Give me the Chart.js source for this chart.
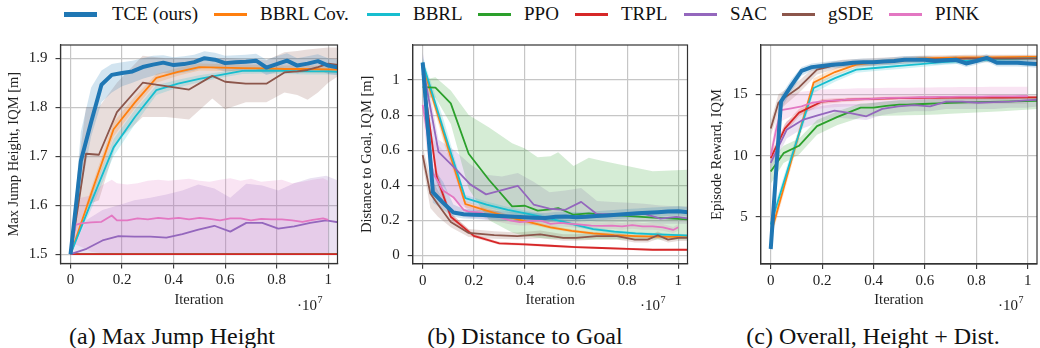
<!DOCTYPE html>
<html>
<head>
<meta charset="utf-8">
<script src="https://cdn.jsdelivr.net/npm/chart.js@4.4.1/dist/chart.umd.min.js"></script>
<style>
  html, body { margin: 0; padding: 0; background: #fff; }
  body { width: 1040px; height: 348px; position: relative; overflow: hidden;
         font-family: 'Liberation Serif', 'Times New Roman', serif; color: #111; }
  .item { position: absolute; top: 2px; height: 24px; display: flex; align-items: center;
          font-size: 19px; white-space: nowrap; }
  .sw { width: 33px; height: 3px; margin-right: 13px; }
  canvas { position: absolute; }
  .cap { position: absolute; top: 322px; width: 400px; text-align: center;
         font-size: 24px; line-height: 28px; white-space: nowrap; }
</style>
</head>
<body>
<canvas id="ca"></canvas>
<canvas id="cb"></canvas>
<canvas id="cc"></canvas>
<div class="cap" style="left:-28px">(a) Max Jump Height</div>
<div class="cap" style="left:325px">(b) Distance to Goal</div>
<div class="cap" style="left:673px">(c) Overall, Height + Dist.</div>
<script>
const NAMES  = ['TCE (ours)', 'BBRL Cov.', 'BBRL', 'PPO', 'TRPL', 'SAC', 'gSDE', 'PINK'];
const COLORS = ['#1f77b4', '#ff7f0e', '#17becf', '#2ca02c', '#d62728', '#9467bd', '#8c564b', '#e377c2'];

const X_TICKS = [0, 0.2, 0.4, 0.6, 0.8, 1];
const A_TICKS = [1.5, 1.6, 1.7, 1.8, 1.9];
const B_TICKS = [0, 0.2, 0.4, 0.6, 0.8, 1];
const C_TICKS = [5, 10, 15];

// evaluation points (x 1e7 iterations) per algorithm
const X_TCE  = [0,0.04,0.08,0.12,0.16,0.2,0.24,0.28,0.32,0.36,0.4,0.44,0.48,0.52,0.56,0.6,0.64,0.68,0.72,0.76,0.8,0.84,0.88,0.92,0.96,1.0,1.04];
const X_BBRL = [0,0.083,0.167,0.25,0.333,0.417,0.5,0.583,0.667,0.75,0.833,0.917,1.0,1.04];
const X_PPO  = [0,0.05,0.11,0.18,0.26,0.35,0.4,0.45,0.5,0.53,0.59,0.65,0.7,0.8,0.9,1.04];
const X_TRPL = [0,0.055,0.11,0.2,0.3,0.4,0.5,0.6,0.7,0.8,0.9,1.0,1.04];
const X_SAC  = [0,0.062,0.124,0.186,0.248,0.31,0.372,0.434,0.496,0.558,0.62,0.682,0.744,0.806,0.868,0.93,0.992,1.04];
const X_GSDE = [0,0.03,0.06,0.11,0.18,0.28,0.37,0.46,0.55,0.6,0.68,0.76,0.83,0.88,0.92,0.96,1.0,1.04];
const X_PINK = [0,0.02,0.04,0.08,0.12,0.16,0.18,0.22,0.26,0.3,0.34,0.38,0.42,0.46,0.5,0.54,0.58,0.62,0.66,0.7,0.74,0.78,0.82,0.86,0.9,0.94,0.98,1.0];

// (a) max jump height
const A_TCE    = [1.5,1.69,1.77,1.846,1.866,1.87,1.873,1.882,1.887,1.891,1.886,1.888,1.892,1.9,1.897,1.89,1.892,1.893,1.895,1.881,1.888,1.895,1.885,1.889,1.894,1.885,1.881];
const A_TCE_LO = [1.5,1.63,1.74,1.81,1.83,1.843,1.85,1.858,1.864,1.87,1.868,1.871,1.875,1.882,1.879,1.873,1.875,1.876,1.878,1.866,1.872,1.878,1.869,1.873,1.877,1.868,1.865];
const A_TCE_HI = [1.5,1.75,1.84,1.875,1.888,1.892,1.895,1.9,1.905,1.906,1.902,1.904,1.907,1.914,1.911,1.905,1.906,1.907,1.909,1.897,1.904,1.91,1.9,1.904,1.908,1.9,1.897];
const A_BBRLC    = [1.5,1.628,1.755,1.81,1.86,1.872,1.882,1.881,1.88,1.879,1.878,1.878,1.877,1.877];
const A_BBRLC_LO = [1.5,1.615,1.74,1.798,1.85,1.864,1.875,1.874,1.873,1.872,1.871,1.871,1.87,1.87];
const A_BBRLC_HI = [1.5,1.64,1.77,1.822,1.868,1.88,1.889,1.888,1.887,1.886,1.885,1.885,1.884,1.884];
const A_BBRL    = [1.5,1.61,1.718,1.78,1.835,1.848,1.858,1.866,1.874,1.875,1.874,1.873,1.873,1.872];
const A_BBRL_LO = [1.5,1.595,1.7,1.765,1.825,1.84,1.851,1.86,1.868,1.869,1.868,1.867,1.867,1.866];
const A_BBRL_HI = [1.5,1.625,1.735,1.795,1.845,1.856,1.865,1.872,1.88,1.881,1.88,1.879,1.879,1.878];
const A_PPO  = [1.5,1.5,1.5,1.5,1.5,1.5,1.5,1.5,1.5,1.5,1.5,1.5,1.5,1.5,1.5,1.5];
const A_TRPL = [1.5,1.5,1.5,1.5,1.5,1.5,1.5,1.5,1.5,1.5,1.5,1.5,1.5];
const A_SAC    = [1.5,1.511,1.528,1.537,1.536,1.536,1.534,1.541,1.55,1.558,1.546,1.564,1.564,1.552,1.557,1.564,1.569,1.565];
const A_SAC_LO = [1.5,1.5,1.5,1.501,1.501,1.501,1.501,1.501,1.501,1.501,1.501,1.501,1.501,1.501,1.501,1.501,1.501,1.501];
const A_SAC_HI = [1.5,1.57,1.59,1.6,1.61,1.615,1.622,1.63,1.642,1.634,1.615,1.644,1.64,1.63,1.645,1.655,1.66,1.65];
const A_GSDE    = [1.5,1.6,1.705,1.703,1.79,1.85,1.843,1.836,1.864,1.852,1.848,1.848,1.871,1.873,1.876,1.882,1.889,1.886];
const A_GSDE_LO = [1.5,1.55,1.6,1.61,1.73,1.78,1.78,1.775,1.818,1.796,1.81,1.81,1.83,1.825,1.815,1.83,1.85,1.864];
const A_GSDE_HI = [1.5,1.68,1.8,1.8,1.85,1.905,1.9,1.9,1.9,1.9,1.898,1.896,1.912,1.915,1.918,1.92,1.922,1.922];
const A_PINK    = [1.5,1.56,1.563,1.565,1.566,1.579,1.569,1.569,1.573,1.571,1.574,1.572,1.574,1.571,1.574,1.572,1.569,1.573,1.573,1.569,1.572,1.571,1.571,1.569,1.566,1.57,1.573,1.57];
const A_PINK_LO = [1.5,1.52,1.515,1.505,1.502,1.502,1.502,1.502,1.502,1.502,1.502,1.502,1.502,1.502,1.502,1.502,1.502,1.502,1.502,1.502,1.502,1.502,1.502,1.502,1.502,1.502,1.502,1.502];
const A_PINK_HI = [1.5,1.6,1.615,1.62,1.64,1.652,1.645,1.642,1.645,1.65,1.652,1.65,1.652,1.654,1.65,1.648,1.652,1.655,1.65,1.654,1.648,1.65,1.652,1.645,1.648,1.652,1.655,1.65];

// (b) distance to goal
const B_TCE    = [1.1,0.36,0.3,0.245,0.235,0.232,0.23,0.226,0.223,0.22,0.218,0.215,0.213,0.22,0.222,0.218,0.22,0.224,0.228,0.232,0.236,0.24,0.243,0.246,0.25,0.252,0.246];
const B_TCE_LO = [1.04,0.3,0.26,0.22,0.21,0.207,0.205,0.201,0.198,0.195,0.193,0.19,0.188,0.195,0.197,0.193,0.195,0.199,0.203,0.207,0.211,0.215,0.218,0.221,0.225,0.227,0.221];
const B_TCE_HI = [1.16,0.5,0.42,0.29,0.265,0.26,0.258,0.254,0.25,0.248,0.246,0.243,0.241,0.248,0.25,0.246,0.248,0.252,0.256,0.26,0.264,0.268,0.271,0.274,0.278,0.28,0.274];
const B_BBRLC    = [1.085,0.69,0.293,0.255,0.22,0.19,0.16,0.14,0.125,0.115,0.11,0.107,0.105,0.104];
const B_BBRLC_LO = [1.06,0.64,0.275,0.24,0.207,0.178,0.15,0.131,0.117,0.107,0.102,0.1,0.098,0.097];
const B_BBRLC_HI = [1.11,0.74,0.31,0.27,0.233,0.202,0.17,0.149,0.133,0.123,0.118,0.115,0.112,0.111];
const B_BBRL    = [1.1,0.71,0.326,0.29,0.26,0.235,0.21,0.18,0.15,0.135,0.125,0.12,0.116,0.113];
const B_BBRL_LO = [1.07,0.66,0.305,0.272,0.244,0.22,0.197,0.169,0.14,0.126,0.117,0.112,0.108,0.105];
const B_BBRL_HI = [1.13,0.77,0.345,0.308,0.276,0.25,0.223,0.191,0.16,0.144,0.133,0.128,0.124,0.121];
const B_PPO    = [0.96,0.957,0.867,0.58,0.43,0.28,0.283,0.255,0.262,0.27,0.232,0.24,0.232,0.225,0.215,0.205];
const B_PPO_LO = [0.9,0.9,0.75,0.38,0.2,0.13,0.11,0.1,0.095,0.095,0.09,0.09,0.09,0.09,0.09,0.09];
const B_PPO_HI = [1.0,1.016,0.94,0.8,0.73,0.64,0.61,0.56,0.566,0.588,0.51,0.557,0.54,0.51,0.48,0.488];
const B_TRPL    = [1.036,0.448,0.22,0.111,0.069,0.063,0.055,0.047,0.042,0.037,0.032,0.033,0.032];
const B_TRPL_LO = [1.0,0.41,0.2,0.1,0.06,0.055,0.048,0.041,0.036,0.031,0.027,0.028,0.027];
const B_TRPL_HI = [1.07,0.49,0.24,0.122,0.078,0.071,0.062,0.053,0.048,0.043,0.037,0.038,0.037];
const B_SAC    = [1.08,0.59,0.5,0.405,0.348,0.372,0.397,0.29,0.266,0.26,0.305,0.235,0.235,0.233,0.237,0.21,0.22,0.211];
const B_SAC_LO = [1.0,0.42,0.32,0.25,0.21,0.2,0.21,0.2,0.19,0.19,0.2,0.19,0.19,0.19,0.19,0.18,0.18,0.18];
const B_SAC_HI = [1.16,0.66,0.6,0.52,0.46,0.45,0.47,0.42,0.36,0.37,0.384,0.31,0.305,0.3,0.295,0.285,0.28,0.28];
const B_GSDE    = [0.572,0.353,0.29,0.19,0.128,0.115,0.11,0.12,0.1,0.1,0.11,0.11,0.09,0.09,0.115,0.09,0.1,0.1];
const B_GSDE_LO = [0.52,0.27,0.22,0.16,0.105,0.095,0.09,0.098,0.083,0.083,0.09,0.09,0.074,0.074,0.094,0.074,0.082,0.082];
const B_GSDE_HI = [0.62,0.45,0.37,0.24,0.15,0.138,0.13,0.142,0.12,0.12,0.13,0.13,0.108,0.108,0.136,0.108,0.12,0.12];
const B_PINK    = [0.858,0.68,0.47,0.37,0.332,0.26,0.25,0.245,0.23,0.22,0.2,0.19,0.195,0.2,0.18,0.185,0.18,0.175,0.17,0.168,0.17,0.165,0.172,0.165,0.165,0.16,0.145,0.16];
const B_PINK_LO = [0.8,0.55,0.36,0.28,0.26,0.22,0.215,0.21,0.2,0.19,0.178,0.17,0.172,0.176,0.16,0.164,0.16,0.155,0.15,0.148,0.15,0.146,0.152,0.146,0.146,0.141,0.128,0.141];
const B_PINK_HI = [0.92,0.8,0.66,0.6,0.56,0.32,0.285,0.28,0.26,0.25,0.225,0.212,0.218,0.224,0.2,0.206,0.2,0.195,0.19,0.188,0.19,0.184,0.192,0.184,0.184,0.179,0.162,0.179];

// (c) episode reward
const C_TCE    = [2.4,14.4,15.7,16.9,17.2,17.3,17.4,17.45,17.55,17.6,17.6,17.65,17.7,17.8,17.8,17.8,17.7,17.75,17.8,17.5,17.7,17.95,17.55,17.55,17.55,17.5,17.45];
const C_TCE_LO = [1.9,13.8,15.2,16.5,16.9,17.0,17.1,17.15,17.25,17.3,17.3,17.35,17.4,17.5,17.5,17.5,17.4,17.45,17.5,17.2,17.4,17.65,17.25,17.25,17.25,17.2,17.15];
const C_TCE_HI = [3.5,14.9,16.2,17.2,17.5,17.6,17.7,17.75,17.85,17.9,17.9,17.95,18.0,18.1,18.1,18.1,18.0,18.05,18.1,17.8,18.0,18.25,17.85,17.85,17.85,17.8,17.75];
const C_BBRLC    = [3.6,9.8,15.95,16.8,17.4,17.6,17.75,17.9,17.95,18.0,18.0,18.02,18.03,18.03];
const C_BBRLC_LO = [3.1,9.3,15.6,16.5,17.15,17.4,17.55,17.7,17.78,17.83,17.85,17.87,17.88,17.88];
const C_BBRLC_HI = [4.1,10.3,16.3,17.1,17.65,17.8,17.95,18.08,18.12,18.15,18.15,18.17,18.18,18.18];
const C_BBRL    = [4.4,10.0,15.5,16.3,17.0,17.15,17.3,17.45,17.6,17.7,17.8,17.85,17.9,17.92];
const C_BBRL_LO = [3.9,9.5,15.1,16.0,16.75,16.9,17.05,17.2,17.38,17.5,17.6,17.66,17.72,17.74];
const C_BBRL_HI = [4.9,10.5,15.9,16.6,17.25,17.4,17.55,17.7,17.82,17.9,18.0,18.04,18.08,18.1];
const C_PPO    = [8.7,10.2,10.8,12.4,13.15,13.9,13.9,14.05,14.15,14.15,14.2,14.25,14.3,14.35,14.4,14.45];
const C_PPO_LO = [7.7,9.4,10.1,11.7,12.5,13.1,13.2,13.25,13.27,13.28,13.3,13.35,13.4,13.5,13.6,13.8];
const C_PPO_HI = [9.5,10.8,11.4,12.9,13.6,14.25,14.3,14.4,14.5,14.5,14.55,14.6,14.62,14.65,14.7,14.72];
const C_TRPL    = [9.8,12.2,13.5,14.4,14.55,14.62,14.68,14.7,14.72,14.72,14.73,14.74,14.74];
const C_TRPL_LO = [9.4,11.8,13.2,14.2,14.4,14.48,14.54,14.56,14.58,14.58,14.59,14.6,14.6];
const C_TRPL_HI = [10.2,12.6,13.8,14.6,14.7,14.76,14.82,14.84,14.86,14.86,14.87,14.88,14.88];
const C_SAC    = [9.4,12.1,12.9,13.3,13.66,13.45,13.2,13.8,14.0,14.1,14.0,14.4,14.4,14.3,14.35,14.4,14.5,14.55];
const C_SAC_LO = [8.8,11.4,12.2,12.7,13.1,13.0,12.9,13.3,13.5,13.6,13.6,13.8,13.8,13.8,13.8,13.9,13.9,14.0];
const C_SAC_HI = [10.0,12.8,13.6,14.0,14.2,14.2,14.2,14.4,14.5,14.6,14.6,14.8,14.8,14.8,14.8,14.8,14.9,14.9];
const C_GSDE    = [12.2,14.3,14.8,15.55,17.0,17.5,17.6,17.7,17.8,17.85,17.85,17.9,17.9,17.9,17.9,17.9,17.9,17.9];
const C_GSDE_LO = [11.6,13.6,14.2,15.1,16.6,17.2,17.3,17.4,17.5,17.55,17.55,17.6,17.6,17.6,17.6,17.6,17.6,17.6];
const C_GSDE_HI = [12.8,15.0,15.4,16.1,17.4,17.8,17.9,18.0,18.1,18.15,18.15,18.2,18.2,18.2,18.2,18.2,18.2,18.2];
const C_PINK    = [10.0,12.0,13.7,13.85,14.0,14.3,14.35,14.45,14.5,14.55,14.6,14.6,14.65,14.7,14.7,14.72,14.75,14.75,14.78,14.78,14.8,14.8,14.8,14.82,14.82,14.82,14.83,14.83];
const C_PINK_LO = [9.6,11.3,12.8,13.2,13.5,13.7,13.8,13.9,13.95,14.0,14.05,14.05,14.1,14.12,14.12,14.14,14.15,14.15,14.17,14.17,14.18,14.18,14.18,14.2,14.2,14.2,14.2,14.2];
const C_PINK_HI = [10.5,12.9,14.6,15.0,15.2,15.3,15.35,15.4,15.42,15.45,15.48,15.48,15.5,15.52,15.52,15.53,15.55,15.55,15.57,15.57,15.58,15.58,15.58,15.6,15.6,15.6,15.6,15.6];

const FONT  = "'Liberation Serif', 'Times New Roman', serif";
const INK   = '#222';
const GRID  = '#c6c6c6';
const SPINE = '#333';

// legend is plain html, one absolutely placed entry per algorithm
const LEGEND_LEFT = [64, 214, 367, 478, 575, 684, 782, 889];
NAMES.forEach((name, i) => {
  const item = document.createElement('div');
  item.className = 'item';
  item.style.left = LEGEND_LEFT[i] + 'px';
  const sw = document.createElement('span');
  sw.className = 'sw';
  sw.style.background = COLORS[i];
  if (i === 0) { sw.style.height = '5px'; sw.style.marginRight = '15px'; }
  const tx = document.createElement('span');
  tx.textContent = name;
  item.appendChild(sw);
  item.appendChild(tx);
  document.body.appendChild(item);
});

function pts(xs, ys) {
  return xs.map((x, k) => ({ x: x, y: ys[k] }));
}

function fade(hex, a) {
  const n = parseInt(hex.slice(1), 16);
  return `rgba(${n >> 16},${(n >> 8) & 255},${n & 255},${a})`;
}

function buildSets(series) {
  const lines = [];
  const bands = [];
  series.forEach(([xs, mean, lo, hi], i) => {
    lines.push({
      label:           NAMES[i],
      data:            pts(xs, mean),
      borderColor:     COLORS[i],
      borderWidth:     i === 0 ? 4 : 1.8,
      pointRadius:     0,
      tension:         0,
      fill:            false,
      borderJoinStyle: 'round',
      order:           i === 0 ? 0 : 8 - i
    });
    if (lo && hi) {
      bands.push({
        data: pts(xs, lo), borderColor: 'rgba(0,0,0,0)', pointRadius: 0, fill: false, order: 20
      });
      bands.push({
        data: pts(xs, hi), borderColor: 'rgba(0,0,0,0)', pointRadius: 0,
        fill: '-1', backgroundColor: fade(COLORS[i], 0.2), order: 20
      });
    }
  });
  return lines.concat(bands);
}

// box around the axes and the "·10^7" offset label
const framePlugin = {
  id: 'frame',
  afterDraw(chart, args, opts) {
    const { ctx, chartArea: a } = chart;
    ctx.save();
    ctx.strokeStyle = SPINE;
    ctx.lineWidth = 1.2;
    ctx.strokeRect(a.left, a.top, a.right - a.left, a.bottom - a.top);
    ctx.fillStyle = INK;
    ctx.textBaseline = 'alphabetic';
    ctx.font = `15px ${FONT}`;
    ctx.fillText('\u00b710', opts.offX, opts.offY);
    const w = ctx.measureText('\u00b710').width;
    ctx.font = `10px ${FONT}`;
    ctx.fillText('7', opts.offX + w + 0.5, opts.offY - 7);
    ctx.restore();
  }
};

function makePanel(p) {
  const [cl, ct, cw, ch] = p.canvas;
  const [pl, pt, pr, pb] = p.plot;
  const el = document.getElementById(p.id);
  el.width = cw; el.height = ch;
  el.style.left = cl + 'px'; el.style.top = ct + 'px';
  el.style.width = cw + 'px'; el.style.height = ch + 'px';

  const tickFont  = { family: FONT, size: 15 };
  const titleFont = { family: FONT, size: 14.5 };
  const grid   = { color: GRID, lineWidth: 1.2, tickLength: 5, tickColor: SPINE, tickWidth: 1.1 };
  const border = { display: true, color: SPINE, width: 1.2 };

  return new Chart(el.getContext('2d'), {
    type: 'line',
    data: { datasets: buildSets(p.series) },
    plugins: [framePlugin],
    options: {
      responsive: false,
      animation: false,
      events: [],
      layout: { padding: { left: 0, top: pt - ct, right: cl + cw - pr, bottom: 0 } },
      plugins: {
        legend:  { display: false },
        tooltip: { enabled: false },
        filler:  { drawTime: 'beforeDatasetsDraw' },
        frame:   { offX: p.offX - cl, offY: 310 - ct }
      },
      scales: {
        x: {
          type: 'linear', min: -0.039, max: 1.036,
          afterBuildTicks: s => { s.ticks = X_TICKS.map(v => ({ value: v })); },
          afterFit: s => { s.height = ct + ch - pb; },
          ticks: { font: tickFont, color: INK, padding: 3, maxRotation: 0, autoSkip: false,
                   callback: v => String(v) },
          grid, border,
          title: { display: true, text: 'Iteration', font: titleFont, color: INK,
                   padding: { top: 0, bottom: 9.6 } }
        },
        y: {
          type: 'linear', min: p.y[0], max: p.y[1],
          afterBuildTicks: s => { s.ticks = p.yTicks.map(v => ({ value: v })); },
          afterFit: s => { s.width = pl - cl; },
          ticks: { font: tickFont, color: INK, padding: 8, autoSkip: false,
                   callback: v => String(v) },
          grid, border,
          title: { display: true, text: p.yTitle, font: titleFont, color: INK,
                   padding: { top: p.yTitlePad, bottom: 0 } }
        }
      }
    }
  });
}

const charts = [
  makePanel({
    id: 'ca', canvas: [0, 28, 345, 290], plot: [60.5, 34, 337.5, 263.5],
    y: [1.481, 1.927], yTicks: A_TICKS, yTitle: 'Max Jump Height, IQM [m]', yTitlePad: 5.3, offX: 297,
    series: [
      [X_TCE, A_TCE, A_TCE_LO, A_TCE_HI],
      [X_BBRL, A_BBRLC, A_BBRLC_LO, A_BBRLC_HI],
      [X_BBRL, A_BBRL, A_BBRL_LO, A_BBRL_HI],
      [X_PPO, A_PPO],
      [X_TRPL, A_TRPL],
      [X_SAC, A_SAC, A_SAC_LO, A_SAC_HI],
      [X_GSDE, A_GSDE, A_GSDE_LO, A_GSDE_HI],
      [X_PINK, A_PINK, A_PINK_LO, A_PINK_HI]
    ]
  }),
  makePanel({
    id: 'cb', canvas: [347, 28, 346, 290], plot: [412.7, 35.5, 687.5, 263.7],
    y: [-0.0475, 1.2], yTicks: B_TICKS, yTitle: 'Distance to Goal, IQM [m]', yTitlePad: 11.8, offX: 640,
    series: [
      [X_TCE, B_TCE, B_TCE_LO, B_TCE_HI],
      [X_BBRL, B_BBRLC, B_BBRLC_LO, B_BBRLC_HI],
      [X_BBRL, B_BBRL, B_BBRL_LO, B_BBRL_HI],
      [X_PPO, B_PPO, B_PPO_LO, B_PPO_HI],
      [X_TRPL, B_TRPL, B_TRPL_LO, B_TRPL_HI],
      [X_SAC, B_SAC, B_SAC_LO, B_SAC_HI],
      [X_GSDE, B_GSDE, B_GSDE_LO, B_GSDE_HI],
      [X_PINK, B_PINK, B_PINK_LO, B_PINK_HI]
    ]
  }),
  makePanel({
    id: 'cc', canvas: [693, 28, 347, 290], plot: [760.7, 34, 1037, 264],
    y: [1.18, 19.0], yTicks: C_TICKS, yTitle: 'Episode Reward, IQM', yTitlePad: 15.8, offX: 998,
    series: [
      [X_TCE, C_TCE, C_TCE_LO, C_TCE_HI],
      [X_BBRL, C_BBRLC, C_BBRLC_LO, C_BBRLC_HI],
      [X_BBRL, C_BBRL, C_BBRL_LO, C_BBRL_HI],
      [X_PPO, C_PPO, C_PPO_LO, C_PPO_HI],
      [X_TRPL, C_TRPL, C_TRPL_LO, C_TRPL_HI],
      [X_SAC, C_SAC, C_SAC_LO, C_SAC_HI],
      [X_GSDE, C_GSDE, C_GSDE_LO, C_GSDE_HI],
      [X_PINK, C_PINK, C_PINK_LO, C_PINK_HI]
    ]
  })
];
</script>
</body>
</html>
